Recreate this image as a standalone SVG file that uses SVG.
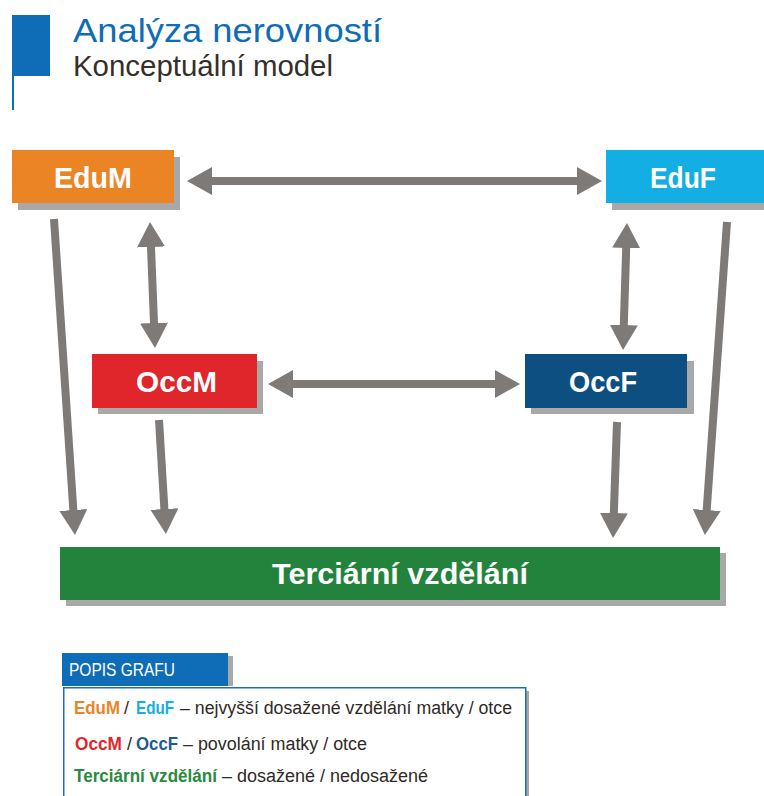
<svg xmlns="http://www.w3.org/2000/svg" width="764" height="796" viewBox="0 0 764 796">
<defs>
<style>
.shadow{fill:#a9a8a7}
.lbl{font-family:"Liberation Sans",Arial,sans-serif;font-weight:bold;fill:#ffffff;text-anchor:middle}
.conn{stroke:#7e7a77;stroke-width:8;fill:none}
.lg{font-family:"Liberation Sans",Arial,sans-serif;font-size:18px;fill:#2f2a28}
.lgb{font-family:"Liberation Sans",Arial,sans-serif;font-size:18px;font-weight:bold}
</style>
<marker id="ah" markerUnits="userSpaceOnUse" markerWidth="25" markerHeight="28" refX="10" refY="14" orient="auto-start-reverse" viewBox="0 0 25 28">
<path d="M0,0 L25,14 L0,28 z" fill="#7e7a77"/>
</marker>
</defs>
<rect width="764" height="796" fill="#ffffff"/>

<g id="title">
<rect x="12" y="15" width="38" height="61" fill="#0e6db6"/>
<rect x="12" y="76" width="2" height="34" fill="#0e6db6"/>
<text x="73" y="42" font-family="Liberation Sans, Arial, sans-serif" font-size="33" fill="#0e6db6" textLength="309" lengthAdjust="spacingAndGlyphs">Analýza nerovností</text>
<text x="73" y="76" font-family="Liberation Sans, Arial, sans-serif" font-size="29" fill="#352f2c" textLength="260" lengthAdjust="spacingAndGlyphs">Konceptuální model</text>
</g>

<g id="connectors">
<line class="conn" x1="202" y1="181" x2="587" y2="181" marker-start="url(#ah)" marker-end="url(#ah)"/>
<line class="conn" x1="283" y1="384" x2="505" y2="384" marker-start="url(#ah)" marker-end="url(#ah)"/>
<line class="conn" x1="150.6" y1="237" x2="154.4" y2="333" marker-start="url(#ah)" marker-end="url(#ah)"/>
<line class="conn" x1="626.5" y1="238" x2="623.5" y2="335" marker-start="url(#ah)" marker-end="url(#ah)"/>
<line class="conn" x1="54" y1="219" x2="74" y2="520" marker-end="url(#ah)"/>
<line class="conn" x1="727" y1="222" x2="706" y2="520" marker-end="url(#ah)"/>
<line class="conn" x1="159" y1="420" x2="165" y2="519" marker-end="url(#ah)"/>
<line class="conn" x1="617" y1="422" x2="613.5" y2="523" marker-end="url(#ah)"/>
</g>

<g id="EduM">
<rect class="shadow" x="18" y="157" width="162" height="53"/>
<rect x="12" y="150" width="162" height="53" fill="#eb8425"/>
<text class="lbl" x="93" y="188" font-size="30" textLength="78" lengthAdjust="spacingAndGlyphs">EduM</text>
</g>

<g id="EduF">
<rect class="shadow" x="612" y="157" width="164" height="53"/>
<rect x="606" y="150" width="164" height="53" fill="#13aee3"/>
<text class="lbl" x="683" y="188" font-size="30" textLength="66" lengthAdjust="spacingAndGlyphs">EduF</text>
</g>

<g id="OccM">
<rect class="shadow" x="98" y="361" width="165" height="53"/>
<rect x="92" y="354" width="165" height="54" fill="#e0262b"/>
<text class="lbl" x="176.5" y="392" font-size="30" textLength="81" lengthAdjust="spacingAndGlyphs">OccM</text>
</g>

<g id="OccF">
<rect class="shadow" x="531" y="361" width="163" height="53"/>
<rect x="525" y="354" width="162" height="54" fill="#0e4f82"/>
<text class="lbl" x="603" y="392" font-size="30" textLength="68" lengthAdjust="spacingAndGlyphs">OccF</text>
</g>

<g id="Terciarni">
<rect class="shadow" x="66" y="553" width="660" height="53"/>
<rect x="60" y="547" width="660" height="53" fill="#23833d"/>
<text class="lbl" x="400" y="584" font-size="30" textLength="256" lengthAdjust="spacingAndGlyphs">Terciární vzdělání</text>
</g>

<g id="legend">
<rect class="shadow" x="228" y="656" width="5" height="30"/>
<rect x="62" y="653" width="166" height="33" fill="#0e6db6"/>
<text x="69" y="676" font-family="Liberation Sans, Arial, sans-serif" font-size="18" fill="#ffffff" textLength="106" lengthAdjust="spacingAndGlyphs">POPIS GRAFU</text>
<rect class="shadow" x="526" y="691" width="3" height="110"/>
<rect x="63.75" y="687.75" width="462" height="120" fill="#ffffff" stroke="#1a6fb5" stroke-width="1.5"/>
<text class="lgb" x="74" y="714" fill="#eb8425" textLength="46" lengthAdjust="spacingAndGlyphs">EduM</text>
<text class="lg" x="124" y="714">/</text>
<text class="lgb" x="136" y="714" fill="#13aee3" textLength="38" lengthAdjust="spacingAndGlyphs">EduF</text>
<text class="lg" x="180" y="714" textLength="332" lengthAdjust="spacingAndGlyphs">– nejvyšší dosažené vzdělání matky / otce</text>
<text class="lgb" x="75" y="750" fill="#e0262b" textLength="47" lengthAdjust="spacingAndGlyphs">OccM</text>
<text class="lg" x="127" y="750">/</text>
<text class="lgb" x="136" y="750" fill="#1b5a94" textLength="42" lengthAdjust="spacingAndGlyphs">OccF</text>
<text class="lg" x="183" y="750" textLength="184" lengthAdjust="spacingAndGlyphs">– povolání matky / otce</text>
<text class="lgb" x="74" y="782" fill="#2a8a3e" textLength="143" lengthAdjust="spacingAndGlyphs">Terciární vzdělání</text>
<text class="lg" x="222" y="782" textLength="206" lengthAdjust="spacingAndGlyphs">– dosažené / nedosažené</text>
</g>
</svg>
